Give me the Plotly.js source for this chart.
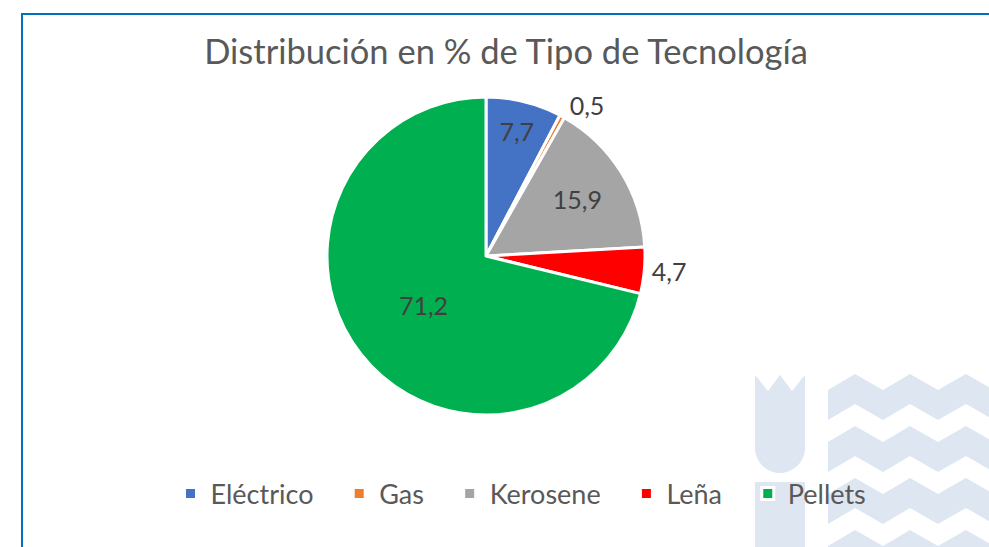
<!DOCTYPE html>
<html>
<head>
<meta charset="utf-8">
<script src="https://cdn.plot.ly/plotly-3.0.1.min.js"></script>
<style>
html,body{margin:0;padding:0;background:#fff;}
#chart{width:989px;height:547px;}
</style>
</head>
<body>
<div id="chart"></div>
<script>
const categories = ['Eléctrico', 'Gas', 'Kerosene', 'Leña', 'Pellets'];
const values = [7.7, 0.5, 15.9, 4.7, 71.2];
const colors = ['#4472C4', '#ED7D31', '#A5A5A5', '#FF0000', '#00B050'];
const labelPositions = ['inside', 'outside', 'inside', 'outside', 'inside'];
const titleText = 'Distribución en % de Tipo de Tecnología';

const W = 989, H = 547;
const px = x => x / W;
const py = y => 1 - y / H;

// legend labels with trailing non-breaking spaces to widen the gap between entries
const legendLabels = categories.map((c, i) => i < categories.length - 1 ? c + '\u00A0\u00A0\u00A0' : c);

// decorative watermark (background logo), in pixel units converted to paper
function pathFrom(pts) {
  return 'M' + pts.map(p => px(p[0]).toFixed(5) + ',' + py(p[1]).toFixed(5)).join(' L') + ' Z';
}
const wmColor = '#DDE6F1';
const shapes = [];
shapes.push({
  type: 'path', xref: 'paper', yref: 'paper', layer: 'below',
  path: 'M' + px(755) + ',' + py(375) + ' L' + px(768) + ',' + py(391) + ' L' + px(780) + ',' + py(375) +
        ' L' + px(792) + ',' + py(391) + ' L' + px(805) + ',' + py(375) + ' L' + px(805) + ',' + py(448) +
        ' C' + px(805) + ',' + py(463) + ' ' + px(792) + ',' + py(473) + ' ' + px(780) + ',' + py(473) +
        ' C' + px(768) + ',' + py(473) + ' ' + px(755) + ',' + py(463) + ' ' + px(755) + ',' + py(448) + ' Z',
  fillcolor: wmColor, line: {width: 0}
});
shapes.push({
  type: 'rect', xref: 'paper', yref: 'paper', layer: 'below',
  x0: px(755), x1: px(805), y0: py(560), y1: py(482),
  fillcolor: wmColor, line: {width: 0}
});
const zx = [828, 855, 883, 910, 938, 966, 994];
const zy = [390, 374, 390, 374, 390, 374, 390];
for (let k = 0; k < 4; k++) {
  const off = 52 * k;
  const top = zx.map((x, i) => [x, zy[i] + off]);
  const bot = zx.map((x, i) => [x, zy[i] + off + 30]).reverse();
  shapes.push({
    type: 'path', xref: 'paper', yref: 'paper', layer: 'below',
    path: pathFrom(top.concat(bot)),
    fillcolor: wmColor, line: {width: 0}
  });
}
shapes.push({
  type: 'rect', xref: 'paper', yref: 'paper', layer: 'below',
  x0: px(22), x1: px(1010), y0: py(570), y1: py(14),
  fillcolor: 'rgba(0,0,0,0)', line: {color: '#0070C0', width: 2}
});

const cx = 486, cy = 256, r = 159;
const labelFont = {family: 'Lato, sans-serif', size: 25, color: '#404040'};

const data = [{
  type: 'pie',
  labels: legendLabels,
  values: values,
  sort: false,
  direction: 'clockwise',
  rotation: 0,
  marker: {colors: colors, line: {color: '#FFFFFF', width: 3}},
  textinfo: 'value',
  texttemplate: '%{value:.1f}',
  textposition: labelPositions,
  insidetextorientation: 'horizontal',
  textfont: labelFont,
  insidetextfont: labelFont,
  outsidetextfont: labelFont,
  hoverinfo: 'none',
  domain: {x: [px(cx - r), px(cx + r)], y: [py(cy + r), py(cy - r)]}
}];

const layout = {
  width: W, height: H,
  margin: {l: 0, r: 0, t: 0, b: 0},
  paper_bgcolor: '#FFFFFF',
  separators: ',.',
  font: {family: 'Lato, sans-serif', color: '#595959'},
  title: {
    text: titleText,
    font: {family: 'Lato, sans-serif', size: 34.5, color: '#595959'},
    x: px(506), xref: 'paper', xanchor: 'center',
    y: py(52), yref: 'container', yanchor: 'middle'
  },
  showlegend: true,
  legend: {
    orientation: 'h',
    x: px(521), xanchor: 'center',
    y: py(494), yanchor: 'middle',
    font: {family: 'Lato, sans-serif', size: 27, color: '#595959'},
    bgcolor: 'rgba(0,0,0,0)'
  },
  shapes: shapes
};

Plotly.newPlot('chart', data, layout, {displayModeBar: false, staticPlot: true});
</script>
</body>
</html>
